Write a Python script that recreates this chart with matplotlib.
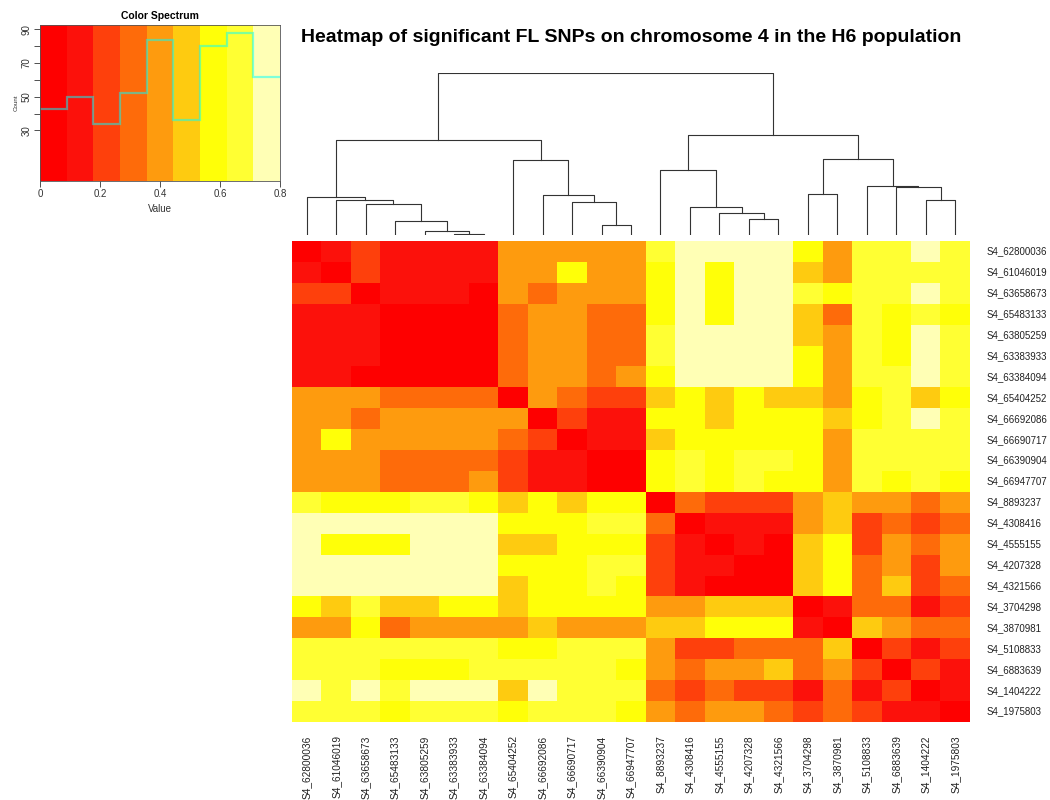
import numpy as np
import matplotlib
matplotlib.use("Agg")
import matplotlib.pyplot as plt
from matplotlib.colors import ListedColormap, BoundaryNorm

plt.rcParams['font.family'] = ['Liberation Sans', 'DejaVu Sans']

snps = ["S4_62800036", "S4_61046019", "S4_63658673", "S4_65483133", "S4_63805259",
        "S4_63383933", "S4_63384094", "S4_65404252", "S4_66692086", "S4_66690717",
        "S4_66390904", "S4_66947707", "S4_8893237", "S4_4308416", "S4_4555155",
        "S4_4207328", "S4_4321566", "S4_3704298", "S4_3870981", "S4_5108833",
        "S4_6883639", "S4_1404222", "S4_1975803"]

# pairwise distances between SNPs, already in dendrogram order
dist = [
    [.00, .13, .22, .13, .13, .13, .13, .40, .40, .40, .40, .40, .67, .76, .76, .76, .76, .58, .40, .67, .67, .76, .67],
    [.13, .00, .22, .13, .13, .13, .13, .40, .40, .58, .40, .40, .58, .76, .58, .76, .76, .49, .40, .67, .67, .67, .67],
    [.22, .22, .00, .13, .13, .13, .04, .40, .31, .40, .40, .40, .58, .76, .58, .76, .76, .67, .58, .67, .67, .76, .67],
    [.13, .13, .13, .00, .04, .04, .04, .31, .40, .40, .31, .31, .58, .76, .58, .76, .76, .49, .31, .67, .58, .67, .58],
    [.13, .13, .13, .04, .00, .04, .04, .31, .40, .40, .31, .31, .67, .76, .76, .76, .76, .49, .40, .67, .58, .76, .67],
    [.13, .13, .13, .04, .04, .00, .04, .31, .40, .40, .31, .31, .67, .76, .76, .76, .76, .58, .40, .67, .58, .76, .67],
    [.13, .13, .04, .04, .04, .04, .00, .31, .40, .40, .31, .40, .58, .76, .76, .76, .76, .58, .40, .67, .67, .76, .67],
    [.40, .40, .40, .31, .31, .31, .31, .00, .40, .31, .22, .22, .49, .58, .49, .58, .49, .49, .40, .58, .67, .49, .58],
    [.40, .40, .31, .40, .40, .40, .40, .40, .00, .22, .13, .13, .58, .58, .49, .58, .58, .58, .49, .58, .67, .76, .67],
    [.40, .58, .40, .40, .40, .40, .40, .31, .22, .00, .13, .13, .49, .58, .58, .58, .58, .58, .40, .67, .67, .67, .67],
    [.40, .40, .40, .31, .31, .31, .31, .22, .13, .13, .00, .04, .58, .67, .58, .67, .67, .58, .40, .67, .67, .67, .67],
    [.40, .40, .40, .31, .31, .31, .40, .22, .13, .13, .04, .00, .58, .67, .58, .67, .58, .58, .40, .67, .58, .67, .58],
    [.67, .58, .58, .58, .67, .67, .58, .49, .58, .49, .58, .58, .00, .31, .22, .22, .22, .40, .49, .40, .40, .31, .40],
    [.76, .76, .76, .76, .76, .76, .76, .58, .58, .58, .67, .67, .31, .00, .13, .13, .13, .40, .49, .22, .31, .22, .31],
    [.76, .58, .58, .58, .76, .76, .76, .49, .49, .58, .58, .58, .22, .13, .00, .13, .04, .49, .58, .22, .40, .31, .40],
    [.76, .76, .76, .76, .76, .76, .76, .58, .58, .58, .67, .67, .22, .13, .13, .00, .04, .49, .58, .31, .40, .22, .40],
    [.76, .76, .76, .76, .76, .76, .76, .49, .58, .58, .67, .58, .22, .13, .04, .04, .00, .49, .58, .31, .49, .22, .31],
    [.58, .49, .67, .49, .49, .58, .58, .49, .58, .58, .58, .58, .40, .40, .49, .49, .49, .00, .13, .31, .31, .13, .22],
    [.40, .40, .58, .31, .40, .40, .40, .40, .49, .40, .40, .40, .49, .49, .58, .58, .58, .13, .00, .49, .40, .31, .31],
    [.67, .67, .67, .67, .67, .67, .67, .58, .58, .67, .67, .67, .40, .22, .22, .31, .31, .31, .49, .00, .22, .13, .22],
    [.67, .67, .67, .58, .58, .58, .67, .67, .67, .67, .67, .58, .40, .31, .40, .40, .49, .31, .40, .22, .00, .22, .13],
    [.76, .67, .76, .67, .76, .76, .76, .49, .76, .67, .67, .67, .31, .22, .31, .22, .22, .13, .31, .13, .22, .00, .13],
    [.67, .67, .67, .58, .67, .67, .67, .58, .67, .67, .67, .58, .40, .31, .40, .40, .31, .22, .31, .22, .13, .13, .00],
]

# hclust-style merges: negative = leaf (1-based), positive = earlier merge
merges = [(-6, -7), (-5, 1), (-4, 2), (-3, 3), (-2, 4), (-1, 5),
          (-11, -12), (-10, 7), (-9, 8), (-8, 9), (6, 10),
          (-16, -17), (-15, 12), (-14, 13), (-13, 14),
          (-18, -19), (-22, -23), (-21, 17), (-20, 18), (16, 19),
          (15, 20), (11, 21)]
merge_height = [0.02, 0.12, 0.41, 0.93, 1.05, 1.15,
                0.30, 0.99, 1.19, 2.24, 2.85,
                0.48, 0.66, 0.85, 1.96,
                1.22, 1.04, 1.43, 1.48, 2.28,
                2.98, 4.85]

# colour key: bin edges, colours and value counts per bin
breaks = np.linspace(0, 0.8, 10)
colors = ['#FE0000', '#FC110B', '#FE400C', '#FE6B0A', '#FE9B0E',
          '#FECB10', '#FFFF08', '#FFFF33', '#FFFFB5']
key_counts = [43, 50, 34, 52, 84, 36, 80, 88, 62]

W, H = 1050, 800


def box(x0, y0, x1, y1):
    # pixel box (top-left origin) -> figure fraction rect
    return [x0 / W, 1 - y1 / H, (x1 - x0) / W, (y1 - y0) / H]


mat = np.array(dist)
n = len(snps)
cmap = ListedColormap(colors)
norm = BoundaryNorm(breaks, cmap.N)

fig = plt.figure(figsize=(W / 100, H / 100), dpi=100)

# heatmap
ax = fig.add_axes(box(292, 241, 970, 722))
ax.imshow(mat, cmap=cmap, norm=norm, aspect='auto', interpolation='nearest',
          extent=(-0.5, n - 0.5, n - 0.5, -0.5))
ax.set_xlim(-0.5, n - 0.5)
ax.set_ylim(n - 0.5, -0.5)
ax.axis('off')
for i, name in enumerate(snps):
    ax.text(1.025, i, name, transform=ax.get_yaxis_transform(),
            ha='left', va='center', fontsize=7.0, color='#222222')
    ax.text(i, -0.028, name, transform=ax.get_xaxis_transform(),
            ha='center', va='top', rotation=90, fontsize=7.3, color='#222222')

# column dendrogram
dax = fig.add_axes(box(292, 73, 970, 235))
xpos = {}
for k, (a, b) in enumerate(merges, start=1):
    h = merge_height[k - 1]
    pts = []
    for c in (a, b):
        if c < 0:
            pts.append((-c - 1, 0.0))
        else:
            pts.append((xpos[c], merge_height[c - 1]))
    (xa, ha), (xb, hb) = pts
    dax.plot([xa, xa, xb, xb], [ha, h, h, hb], color='#333333', lw=0.8)
    xpos[k] = (xa + xb) / 2
dax.set_xlim(-0.5, n - 0.5)
dax.set_ylim(0, max(merge_height))
dax.axis('off')

# colour key with histogram of the values
counts = np.array(key_counts)
kax = fig.add_axes(box(40, 25, 280, 181))
top = counts.max() / 0.95
kax.pcolormesh(breaks, [0, top], np.arange(len(colors))[None, :], cmap=cmap,
               vmin=-0.5, vmax=len(colors) - 0.5)
kax.stairs(counts, breaks, baseline=None, color='cyan', alpha=0.5, lw=1.6)
kax.set_xlim(0, 0.8)
kax.set_ylim(0, top)
kax.set_xticks([0, 0.2, 0.4, 0.6, 0.8])
kax.set_xticklabels(['0', '0.2', '0.4', '0.6', '0.8'])
yt = np.arange(np.floor(counts.min() / 10) * 10, counts.max() + 10, 10)
kax.set_yticks(yt)
kax.set_yticklabels([str(int(v)) if int(v) % 20 == 10 else '' for v in yt],
                    rotation=90, va='center')
kax.tick_params(labelsize=7, length=4, width=0.6, color='#333333',
                labelcolor='#333333', pad=2)
for s in kax.spines.values():
    s.set_linewidth(0.6)
    s.set_color('#555555')
kax.set_xlabel('Value', fontsize=7, color='#333333', labelpad=3)
kax.set_ylabel('Count', fontsize=4.5, color='#333333', labelpad=2)
kax.set_title('Color Spectrum', fontsize=7.5, fontweight='bold', pad=4)

fig.text(631 / W, 1 - 37 / H,
         'Heatmap of significant FL SNPs on chromosome 4 in the H6 population',
         ha='center', va='center', fontsize=14, fontweight='bold')

fig.savefig('out.png', dpi=100)
